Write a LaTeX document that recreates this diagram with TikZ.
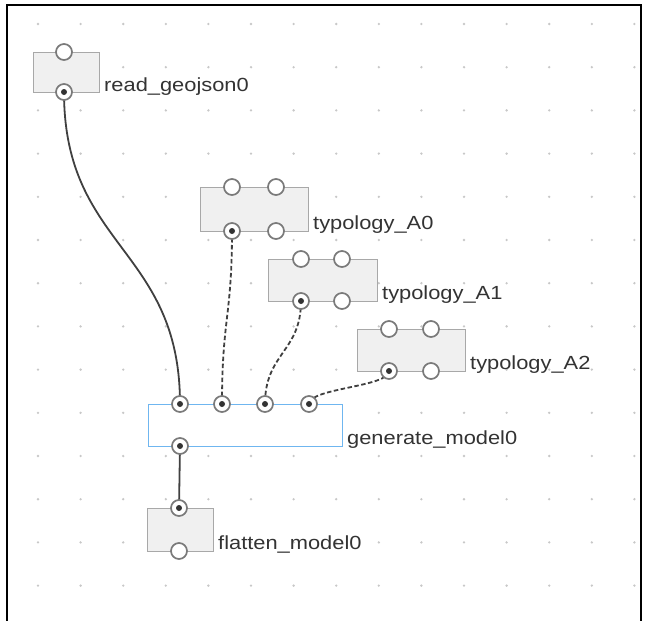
\documentclass[tikz,border=0pt]{standalone}
\usepackage{fontspec}
\setmainfont[FakeStretch=1.15]{Liberation Sans}
\usetikzlibrary{backgrounds}
\definecolor{boxfill}{HTML}{F0F0F0}
\definecolor{boxline}{HTML}{A8A8A8}
\definecolor{portline}{HTML}{7A7A7A}
\definecolor{dotc}{HTML}{333333}
\definecolor{wirec}{HTML}{404040}
\definecolor{textc}{HTML}{333333}
\definecolor{gmline}{HTML}{6FB6F0}
\definecolor{gridc}{HTML}{C8C8C8}
\begin{document}
\begin{tikzpicture}[x=1pt,y=-1pt,
  box/.style={draw=boxline, fill=boxfill, line width=1.3pt, rectangle, inner sep=0pt, anchor=north west},
  selbox/.style={box, draw=gmline, fill=white},
  port/.style={circle, draw=portline, fill=white, line width=1.7pt, minimum size=16pt, inner sep=0pt},
  cport/.style={port, path picture={\fill[dotc] (path picture bounding box.center) circle (3pt);}},
  wire/.style={draw=wirec, line width=1.8pt},
  dwire/.style={wire, dash pattern=on 4.5pt off 2.5pt},
  lbl/.style={anchor=base west, inner sep=0pt, text=textc, font=\fontsize{19}{22}\selectfont}]
\useasboundingbox (0,0) rectangle (646,621);
\begin{scope}[on background layer]
\fill[white] (0,0) rectangle (646,621);
\foreach \i in {0,...,14} {
  \foreach \j in {0,...,13} {
    \fill[gridc] ({38+42.6*\i},{24+43.2*\j}) circle (1.3pt);
  }
}
\end{scope}
% frame
\draw[line width=2pt] (7,621) -- (7,5) -- (641,5) -- (641,621);
% boxes
\node[box, minimum width=66pt, minimum height=40pt] (rg) at (33,52) {};
\node[box, minimum width=108pt, minimum height=44pt] (a0) at (200,187) {};
\node[box, minimum width=109pt, minimum height=42pt] (a1) at (268,259) {};
\node[box, minimum width=108pt, minimum height=42pt] (a2) at (357,329) {};
\node[selbox, minimum width=194pt, minimum height=42pt] (gm) at (148,404) {};
\node[box, minimum width=66pt, minimum height=43pt] (fm) at (147,508) {};
% labels
\node[lbl] (rgl) at (104,91) {read\_geojson0};
\node[lbl] (a0l) at (313,229) {typology\_A0};
\node[lbl] (a1l) at (382,299) {typology\_A1};
\node[lbl] (a2l) at (470,369) {typology\_A2};
\node[lbl] (gml) at (347,444) {generate\_model0};
\node[lbl] (fml) at (218,549) {flatten\_model0};
% ports
\node[port] (rg-in) at (64,52) {};
\node[cport] (rg-out) at (64,92) {};
\node[port] (a0-i1) at (232,187) {};
\node[port] (a0-i2) at (276,187) {};
\node[cport] (a0-o1) at (232,231) {};
\node[port] (a0-o2) at (276,231) {};
\node[port] (a1-i1) at (301,259) {};
\node[port] (a1-i2) at (342,259) {};
\node[cport] (a1-o1) at (301,301) {};
\node[port] (a1-o2) at (342,301) {};
\node[port] (a2-i1) at (389,329) {};
\node[port] (a2-i2) at (431,329) {};
\node[cport] (a2-o1) at (389,371) {};
\node[port] (a2-o2) at (431,371) {};
\node[cport] (gm-i1) at (180,404) {};
\node[cport] (gm-i2) at (222,404) {};
\node[cport] (gm-i3) at (265,404) {};
\node[cport] (gm-i4) at (309,404) {};
\node[cport] (gm-o) at (180,446) {};
\node[cport] (fm-i) at (179,508) {};
\node[port] (fm-o) at (179,551) {};
% connectors
\begin{scope}[on background layer]
\draw[wire] (rg-out.center) .. controls +(0,156) and +(0,-156) .. (gm-i1.center);
\draw[dwire] (a0-o1.center) .. controls +(0,86) and +(0,-86) .. (gm-i2.center);
\draw[dwire] (a1-o1.center) .. controls +(0,51) and +(0,-51) .. (gm-i3.center);
\draw[dwire] (a2-o1.center) .. controls +(0,16) and +(0,-16) .. (gm-i4.center);
\draw[wire] (gm-o.center) -- (fm-i.center);
\end{scope}
\end{tikzpicture}
\end{document}
